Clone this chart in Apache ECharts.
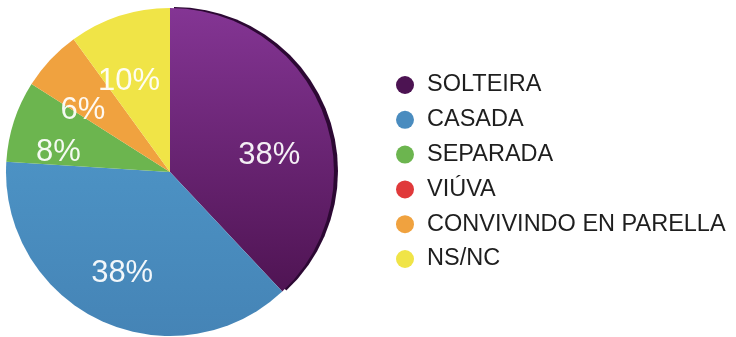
<!DOCTYPE html>
<html>
<head>
<meta charset="utf-8">
<script src="https://cdn.jsdelivr.net/npm/echarts@6/dist/echarts.min.js"></script>
<style>
  html, body { margin: 0; padding: 0; background: #ffffff; }
  #chart { width: 736px; height: 337px; }
</style>
</head>
<body>
<div id="chart"></div>
<script>
// Marital status breakdown (percent)
const categories = ['SOLTEIRA', 'CASADA', 'SEPARADA', 'VIÚVA', 'CONVIVINDO EN PARELLA', 'NS/NC'];
const shares = [38, 38, 8, 0, 6, 10];
const sliceColors = ['#6a2379', '#4a8cbf', '#6cb54f', '#e0393a', '#f0a23f', '#f0e447'];
const legendColors = ['#4c1352', '#4a8cbf', '#6cb54f', '#e0393a', '#f0a23f', '#f0e447'];

// small per-slice nudges for the percentage labels
const labelNudge = { 0: [4, 10], 1: [6, -12] };

const chart = echarts.init(document.getElementById('chart'), null, { renderer: 'canvas' });

function sliceStyle(i) {
  if (i === 0) {
    return {
      color: new echarts.graphic.LinearGradient(0, 0, 0, 1, [
        { offset: 0, color: '#843594' },
        { offset: 1, color: '#4f1453' }
      ]),
      shadowColor: '#2c0833',
      shadowBlur: 0,
      shadowOffsetX: 4,
      shadowOffsetY: -1
    };
  }
  if (i === 1) {
    return {
      color: new echarts.graphic.LinearGradient(0, 0, 0, 1, [
        { offset: 0, color: '#4c92c4' },
        { offset: 1, color: '#4584b6' }
      ])
    };
  }
  return { color: sliceColors[i] };
}

const pieData = categories.map((name, i) => ({
  name,
  value: shares[i],
  itemStyle: sliceStyle(i)
}));

const labelData = categories.map((name, i) => ({ name, value: shares[i] }));

chart.setOption({
  animation: false,
  backgroundColor: '#ffffff',
  color: legendColors,
  legend: {
    orient: 'vertical',
    left: 391,
    top: 68,
    icon: 'circle',
    itemWidth: 18,
    itemHeight: 18,
    itemGap: 10.8,
    data: categories.map((name, i) => ({ name, itemStyle: { color: legendColors[i] } })),
    textStyle: {
      color: '#1e1e1e',
      fontFamily: 'Liberation Sans, Arial, sans-serif',
      fontSize: 23.5,
      lineHeight: 22,
      padding: [0, 0, 0, 8]
    },
    selectedMode: false
  },
  series: [
    {
      type: 'pie',
      center: [170, 172],
      radius: [0, 164],
      startAngle: 90,
      clockwise: true,
      silent: true,
      label: { show: false },
      labelLine: { show: false },
      data: pieData
    },
    {
      // transparent ring used only to place the percentage labels
      type: 'pie',
      center: [163, 186],
      radius: [48, 166],
      startAngle: 90,
      clockwise: true,
      silent: true,
      legendHoverLink: false,
      avoidLabelOverlap: false,
      labelLayout: params => {
        const n = labelNudge[params.dataIndex] || [0, 0];
        return { hideOverlap: false, dx: n[0], dy: n[1] };
      },
      itemStyle: { color: 'rgba(0,0,0,0)' },
      emphasis: { disabled: true },
      label: {
        show: true,
        position: 'inside',
        formatter: p => (p.value ? p.value + '%' : ''),
        color: 'rgba(255,255,255,0.93)',
        fontFamily: 'Liberation Sans, Arial, sans-serif',
        fontSize: 31
      },
      labelLine: { show: false },
      data: labelData
    }
  ]
});
</script>
</body>
</html>
